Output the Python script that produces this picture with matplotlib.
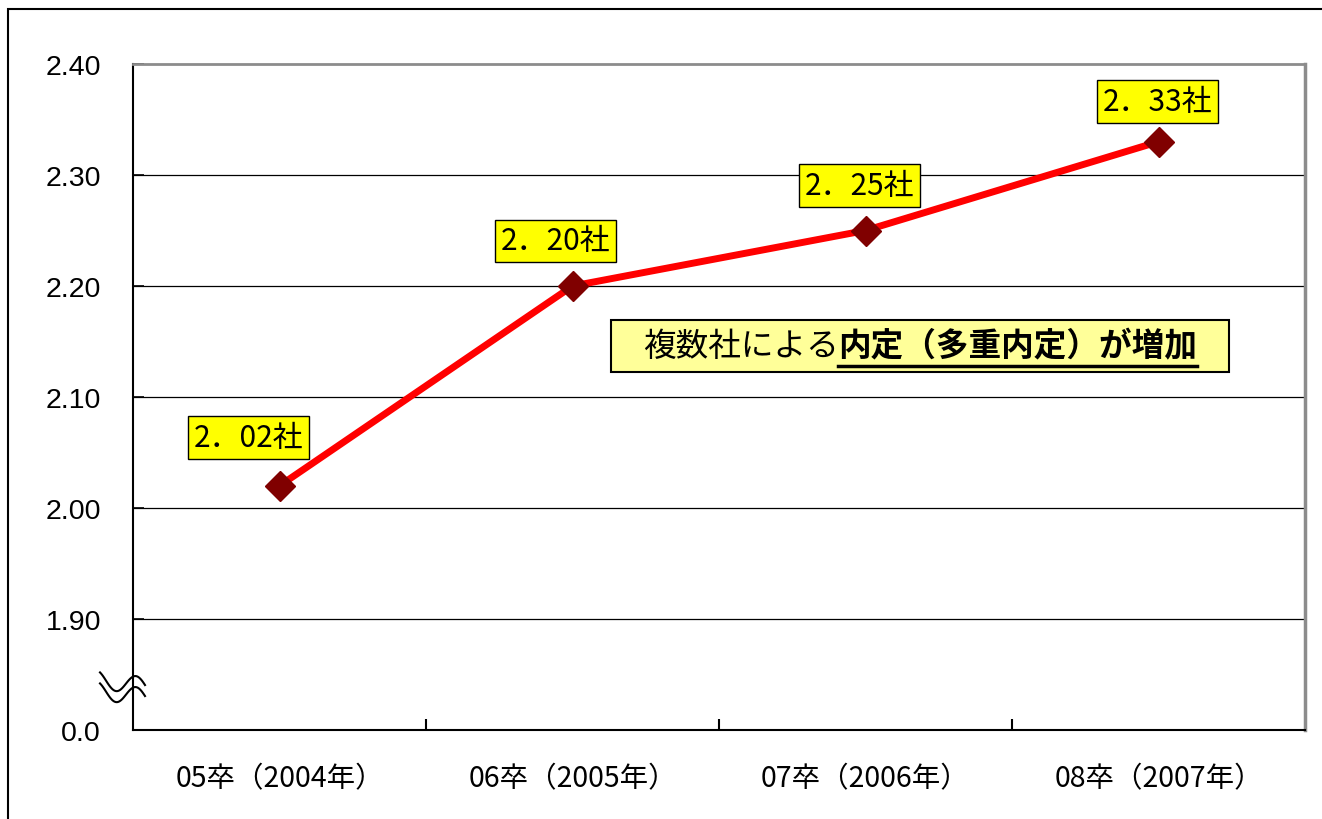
import numpy as np
import matplotlib
matplotlib.use("Agg")
import matplotlib.pyplot as plt
from matplotlib.lines import Line2D
from matplotlib.patches import Rectangle

# ---- data ----
categories = ["05卒（2004年）", "06卒（2005年）", "07卒（2006年）", "08卒（2007年）"]
values = [2.02, 2.20, 2.25, 2.33]
value_labels = ["2．02社", "2．20社", "2．25社", "2．33社"]
ytick_values = [1.80, 1.90, 2.00, 2.10, 2.20, 2.30, 2.40]
ytick_labels = ["0.0", "1.90", "2.00", "2.10", "2.20", "2.30", "2.40"]
note_plain = "複数社による"
note_bold = "内定（多重内定）が増加"

W, H = 1322, 820
fig = plt.figure(figsize=(W / 100, H / 100), dpi=100)
fig.patch.set_facecolor("white")

def fx(px):
    return px / W

def fy(py):
    return 1 - py / H

ax = fig.add_axes([fx(133), fy(731), fx(1305) - fx(133), fy(65) - fy(731)])
ax.set_facecolor("white")

x = np.arange(len(categories))
ax.plot(x, values, color="#FF0000", lw=5, zorder=3, solid_capstyle="round")
ax.plot(x, values, linestyle="none", marker="D", ms=15, mfc="#800000",
        mec="#800000", zorder=4)

ax.set_xlim(-0.5, len(categories) - 0.5)
ax.set_ylim(1.80, 2.40)
ax.set_yticks(ytick_values)
ax.set_yticklabels(ytick_labels, fontsize=20.5, family=["Liberation Sans", "DejaVu Sans"])
ax.tick_params(axis="y", direction="in", length=8, width=1.2, pad=23, colors="black")

ax.set_xticks([0.5, 1.5, 2.5])
ax.set_xticklabels([])
ax.tick_params(axis="x", which="major", direction="in", length=8, width=1.5)
ax.set_xticks(x, minor=True)
ax.set_xticklabels(categories, minor=True, fontsize=20.5,
                   family=["Noto Sans CJK JP", "DejaVu Sans"])
ax.tick_params(axis="x", which="minor", length=0, pad=24)

for v in ytick_values[1:-1]:
    ax.axhline(v, color="black", lw=0.9, zorder=1)

ax.spines["left"].set_color("black")
ax.spines["left"].set_linewidth(1.5)
ax.spines["bottom"].set_color("black")
ax.spines["bottom"].set_linewidth(1.5)
ax.spines["top"].set_color("#8c8c8c")
ax.spines["top"].set_linewidth(2)
ax.spines["right"].set_color("#8c8c8c")
ax.spines["right"].set_linewidth(2.5)

offsets = [(-31, 48), (-17, 45), (-6, 45), (-1, 40)]
for xi, v, lab, off in zip(x, values, value_labels, offsets):
    ax.annotate(lab, (xi, v), xytext=off, textcoords="offset pixels",
                ha="center", va="center", fontsize=21.5,
                family=["Noto Sans CJK JP", "DejaVu Sans"], zorder=5,
                bbox=dict(boxstyle="square,pad=0.2", fc="#FFFF00", ec="black", lw=1))

# note box
fig.patches.append(Rectangle((fx(611), fy(373)), fx(1229) - fx(611), fy(321) - fy(373),
                             transform=fig.transFigure, fc="#FFFF99", ec="black", lw=1.5,
                             zorder=5))
t1 = fig.text(0, fy(347), note_plain, fontsize=23.5, va="center", ha="left",
              family=["Noto Sans CJK JP", "DejaVu Sans"], zorder=6)
t2 = fig.text(0, fy(347), note_bold, fontsize=23.5, va="center", ha="left",
              fontweight="bold", family=["Noto Sans CJK JP", "DejaVu Sans"], zorder=6)
fig.canvas.draw()
r = fig.canvas.get_renderer()
w1 = t1.get_window_extent(r).width
w2 = t2.get_window_extent(r).width
x0 = 920 - (w1 + w2) / 2
t1.set_x(fx(x0))
t2.set_x(fx(x0 + w1))
fig.lines.append(Line2D([fx(x0 + w1), fx(x0 + w1 + w2)], [fy(367), fy(367)],
                        transform=fig.transFigure, color="black", lw=2.5, zorder=6))

# axis break mark
xs = np.linspace(100, 145, 60)
for dy in (0, 11):
    ys = 684 + dy + 0.15 * (xs - 122) + 9 * np.sin(2 * np.pi * (xs - 106) / 40)
    fig.lines.append(Line2D(fx(xs), fy(ys), transform=fig.transFigure,
                            color="black", lw=1.5, zorder=7))

# outer frame
fig.patches.append(Rectangle((fx(8), -0.1), 1.2, fy(10) + 0.1, transform=fig.transFigure,
                             fill=False, ec="black", lw=1.5, zorder=8))

fig.savefig("out.png", dpi=100)
